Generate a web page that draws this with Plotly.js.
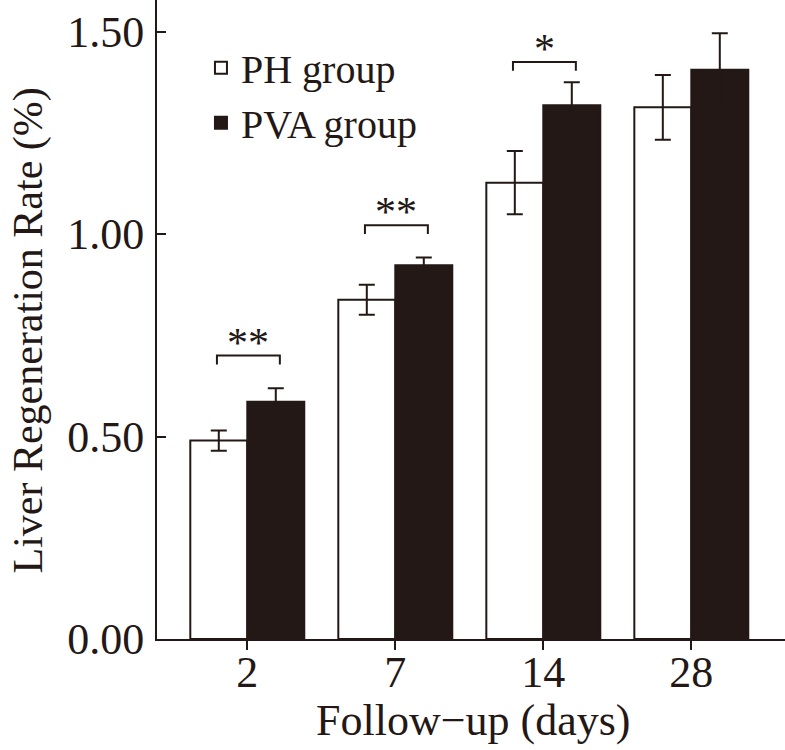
<!DOCTYPE html>
<html>
<head>
<meta charset="utf-8">
<script src="https://cdn.plot.ly/plotly-3.0.1.min.js"></script>
<style>
  html, body { margin: 0; padding: 0; background: #fff; }
  #plot { width: 785px; height: 750px; }
</style>
</head>
<body>
<div id="plot"></div>
<script>
// follow-up days (categories)
const days = ['2', '7', '14', '28'];

// PH group: mean and SD
const phMean = [0.49, 0.838, 1.127, 1.313];
const phErr = [0.025, 0.037, 0.078, 0.08];

// PVA group: mean and SD
const pvaMean = [0.586, 0.923, 1.318, 1.406];
const pvaErr = [0.033, 0.019, 0.057, 0.09];

// significance marks and bracket heights
const sigMarks = ['**', '**', '*', ''];
const sigBracketY = [0.70, 1.022, 1.425, null];

const ink = '#231815';
const serif = '"Liberation Serif", "Times New Roman", serif';

function bracketShapes() {
    let shapes = [];
    let notes = [];
    for (var i = 0; i < days.length; ++i) {
        if (!sigMarks[i]) continue;
        const y = sigBracketY[i];
        const x0 = i - 0.205;
        const x1 = i + 0.22;
        shapes.push({
            type: 'path',
            xref: 'x', yref: 'y',
            path: 'M ' + x0 + ' ' + (y - 0.022) + ' L ' + x0 + ' ' + y +
                  ' L ' + x1 + ' ' + y + ' L ' + x1 + ' ' + (y - 0.022),
            line: { color: ink, width: 2 }
        });
        notes.push({
            x: (x0 + x1) / 2, y: y,
            xref: 'x', yref: 'y',
            text: sigMarks[i],
            showarrow: false,
            yanchor: 'bottom',
            yshift: -12,
            font: { family: serif, size: 42, color: ink }
        });
    }
    return { shapes: shapes, notes: notes };
}

const trace1 = {
    x: days,
    y: phMean,
    name: 'PH group',
    type: 'bar',
    marker: { color: '#ffffff', line: { color: ink, width: 2 } },
    error_y: { type: 'data', array: phErr, visible: true, color: ink, thickness: 2, width: 8 }
};

const trace2 = {
    x: days,
    y: pvaMean,
    name: 'PVA group',
    type: 'bar',
    marker: { color: ink, line: { color: ink, width: 2 } },
    error_y: { type: 'data', array: pvaErr, visible: true, color: ink, thickness: 2, width: 8 }
};

const marks = bracketShapes();

// axis titles placed as annotations so they sit where the original has them
marks.notes.push({
    xref: 'paper', yref: 'paper',
    x: -0.2062, y: 0.482,
    xanchor: 'center', yanchor: 'middle',
    textangle: -90,
    showarrow: false,
    text: 'Liver Regeneration Rate (%)',
    font: { family: serif, size: 42, color: ink }
});
marks.notes.push({
    xref: 'paper', yref: 'paper',
    x: 0.503, y: -0.127,
    xanchor: 'center', yanchor: 'middle',
    showarrow: false,
    text: 'Follow\u2212up (days)',
    font: { family: serif, size: 44, color: ink }
});

const layout = {
    width: 785,
    height: 750,
    margin: { l: 157, r: 0, t: 0, b: 111 },
    paper_bgcolor: '#ffffff',
    plot_bgcolor: '#ffffff',
    font: { family: serif, color: ink, size: 40 },
    barmode: 'group',
    bargap: 0.23,
    bargroupgap: 0,
    showlegend: true,
    legend: {
        x: 0.07, y: 0.945,
        xanchor: 'left', yanchor: 'top',
        bgcolor: 'rgba(0,0,0,0)',
        font: { family: serif, size: 40, color: ink },
        traceorder: 'normal'
    },
    xaxis: {
        type: 'category',
        range: [-0.61, 3.633],
        showline: true, linecolor: ink, linewidth: 2,
        ticks: 'outside', ticklen: 9, tickwidth: 2, tickcolor: ink,
        ticklabelstandoff: -16,
        showgrid: false, zeroline: false,
        tickfont: { family: serif, size: 44, color: ink }
    },
    yaxis: {
        range: [0, 1.578],
        tickvals: [0, 0.5, 1.0, 1.5],
        ticktext: ['0.00', '0.50', '1.00', '1.50'],
        showline: true, linecolor: ink, linewidth: 2,
        ticks: 'inside', ticklen: 9, tickwidth: 2, tickcolor: ink,
        ticklabelstandoff: 2,
        showgrid: false, zeroline: false,
        tickfont: { family: serif, size: 44, color: ink }
    },
    shapes: marks.shapes,
    annotations: marks.notes
};

Plotly.newPlot('plot', [trace1, trace2], layout, { displayModeBar: false, staticPlot: true });
</script>
</body>
</html>
